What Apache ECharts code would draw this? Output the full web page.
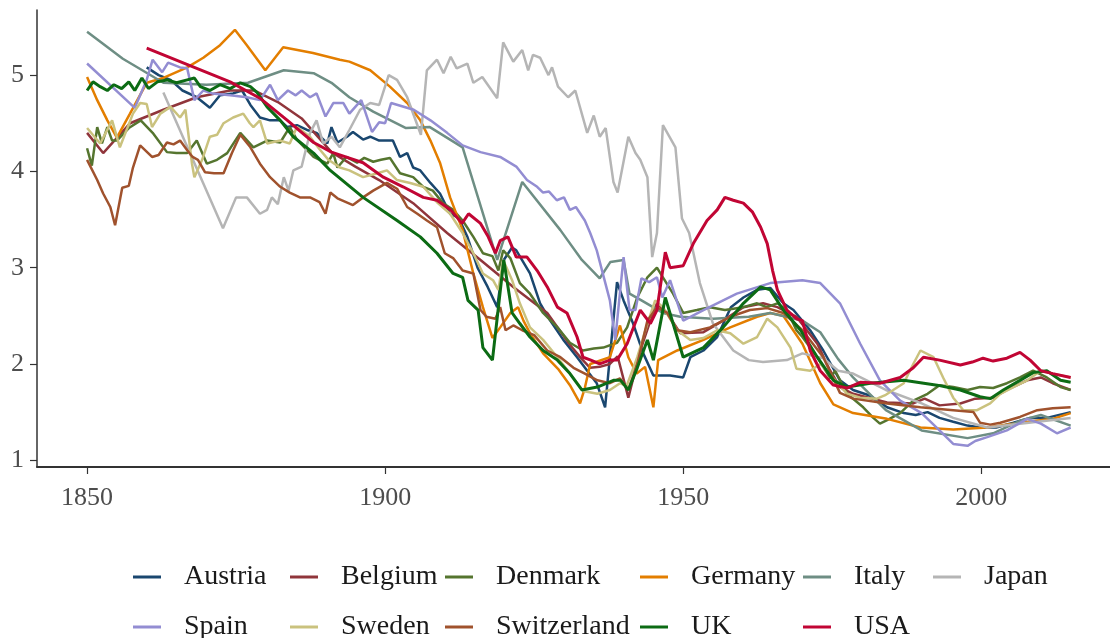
<!DOCTYPE html>
<html>
<head>
<meta charset="utf-8">
<script src="https://cdn.jsdelivr.net/npm/echarts@6/dist/echarts.min.js"></script>
<style>
  html, body { margin: 0; padding: 0; background: #fff; }
  #chart { width: 1110px; height: 638px; }
</style>
</head>
<body>
<div id="chart"></div>
<script>
// [year, value] pairs
const austria = [[1860,5.08],[1862,5.0],[1864,4.95],[1866,4.84],[1868.4,4.77],[1870.6,4.66],[1872.3,4.79],[1874.5,4.81],[1876,4.84],[1877.4,4.69],[1879,4.56],[1880.7,4.53],[1882.4,4.53],[1883.6,4.46],[1885.2,4.48],[1886.9,4.43],[1888.5,4.4],[1890.3,4.29],[1891,4.46],[1892,4.3],[1893.6,4.36],[1894.6,4.41],[1896.3,4.33],[1897.5,4.36],[1899,4.32],[1901.3,4.32],[1902.5,4.15],[1903.7,4.19],[1904.7,4.04],[1905.9,4.01],[1907.6,3.88],[1909.2,3.77],[1910.9,3.56],[1912.3,3.52],[1913.8,3.32],[1915.5,3.0],[1917.2,2.8],[1918.8,2.59],[1919.9,3.08],[1921.3,3.21],[1922,3.18],[1924.3,2.94],[1926,2.63],[1927.7,2.45],[1929.9,2.25],[1932.2,2.07],[1933.9,1.93],[1935.5,1.8],[1936.9,1.55],[1938.9,2.85],[1940,2.66],[1941.6,2.42],[1943.3,2.11],[1945,1.88],[1947.8,1.88],[1950,1.86],[1951.2,2.07],[1953.4,2.14],[1955.7,2.28],[1958,2.59],[1960.1,2.69],[1962.4,2.77],[1964.6,2.79],[1966.8,2.63],[1968.5,2.56],[1971.3,2.35],[1973.5,2.14],[1976.3,1.83],[1978.5,1.73],[1981.4,1.67],[1984.2,1.55],[1987,1.49],[1989,1.47],[1991,1.5],[1993,1.44],[1995.3,1.4],[1997.7,1.36],[1999.8,1.34],[2002.5,1.34],[2005.4,1.39],[2008.2,1.44],[2011,1.44],[2015,1.5]];
const belgium = [[1850,4.4],[1852.7,4.19],[1857.2,4.5],[1862.8,4.64],[1868.4,4.77],[1874,4.84],[1878,4.84],[1882,4.72],[1886,4.55],[1891,4.2],[1895,4.05],[1899,3.91],[1904.7,3.67],[1910.4,3.36],[1916,3.08],[1921.5,2.8],[1927.2,2.53],[1931,2.2],[1933,2.05],[1934.4,1.96],[1936,1.97],[1937.7,2.0],[1939,2.08],[1940.8,1.65],[1942.8,2.14],[1944.5,2.45],[1945.6,2.63],[1947.3,2.53],[1949.5,2.32],[1953.4,2.33],[1956.7,2.45],[1960.1,2.59],[1963.4,2.63],[1965.8,2.59],[1969,2.49],[1972.5,2.21],[1974.5,1.95],[1976.3,1.76],[1978.5,1.69],[1984.2,1.6],[1988.6,1.59],[1990.5,1.64],[1993,1.57],[1996.5,1.59],[1999,1.64],[2002,1.65],[2004.3,1.73],[2007.7,1.83],[2010,1.86],[2012,1.8],[2015,1.73]];
const denmark = [[1850,4.24],[1850.8,4.06],[1851.7,4.46],[1852.5,4.29],[1853.4,4.46],[1854.2,4.32],[1855,4.32],[1857,4.45],[1859,4.53],[1861,4.4],[1863.4,4.2],[1865,4.19],[1866.8,4.19],[1868.4,4.32],[1870.1,4.08],[1871.8,4.12],[1873.5,4.19],[1875.7,4.4],[1877.9,4.25],[1880.2,4.32],[1882.4,4.3],[1884,4.46],[1885.2,4.33],[1888,4.15],[1890.3,4.08],[1891.3,4.19],[1892,4.04],[1893.5,4.15],[1895.3,4.09],[1896.5,4.14],[1898,4.1],[1899.3,4.12],[1900.8,4.14],[1902.5,3.98],[1904.7,3.94],[1906.4,3.84],[1908,3.8],[1909.7,3.67],[1911.4,3.6],[1913,3.49],[1914.8,3.32],[1916.4,3.15],[1918,3.12],[1919,2.97],[1919.8,3.18],[1921,3.1],[1922.6,2.84],[1924.3,2.73],[1926.5,2.53],[1928.9,2.38],[1931,2.22],[1933.2,2.14],[1935,2.16],[1936.6,2.17],[1938.9,2.22],[1940.6,2.38],[1942.3,2.69],[1944,2.9],[1945.6,3.0],[1946.6,2.9],[1948.3,2.73],[1950,2.53],[1952.3,2.56],[1954.5,2.59],[1957,2.56],[1960.1,2.59],[1962.4,2.63],[1964,2.59],[1965.8,2.63],[1967.4,2.56],[1969,2.35],[1970,2.28],[1972.5,2.07],[1974.7,1.85],[1975.5,1.93],[1977.5,1.69],[1980.2,1.55],[1981.9,1.44],[1983,1.38],[1984.3,1.42],[1986.4,1.49],[1988.6,1.62],[1991,1.69],[1993,1.78],[1995.3,1.76],[1997.7,1.73],[1999.8,1.76],[2002,1.75],[2004.3,1.8],[2006.5,1.86],[2008.7,1.93],[2011,1.86],[2013.3,1.76],[2015,1.73]];
const germany = [[1850,4.98],[1851.7,4.74],[1853.4,4.53],[1855,4.35],[1857.2,4.6],[1860,4.92],[1862.8,4.97],[1866.8,5.08],[1869.5,5.18],[1872.3,5.31],[1874.8,5.47],[1876.8,5.31],[1879.9,5.05],[1882.9,5.29],[1887.9,5.23],[1892.4,5.16],[1894,5.14],[1897.5,5.05],[1900.8,4.88],[1903.7,4.71],[1905.9,4.53],[1907.6,4.32],[1909.2,4.09],[1910.9,3.73],[1913,3.39],[1914.8,2.94],[1916.4,2.59],[1918,2.27],[1919.3,2.38],[1921,2.53],[1922.3,2.59],[1923.2,2.45],[1924.3,2.32],[1926.5,2.11],[1929,1.95],[1931,1.78],[1932.7,1.59],[1933.5,1.75],[1934.4,2.0],[1937.7,2.07],[1939.4,2.4],[1940.8,2.07],[1942.2,1.9],[1943.6,1.97],[1945,1.55],[1945.8,2.04],[1949,2.14],[1953.4,2.25],[1957.9,2.38],[1962.4,2.49],[1964.6,2.53],[1966.8,2.5],[1970,2.21],[1973,1.8],[1975.2,1.58],[1978.5,1.49],[1984.2,1.43],[1989.8,1.34],[1995.3,1.32],[2001,1.34],[2006.5,1.39],[2012,1.43],[2015,1.49]];
const italy = [[1850,5.45],[1856,5.17],[1862.8,4.92],[1870,4.9],[1877,4.92],[1883,5.05],[1888,5.02],[1891,4.92],[1894,4.77],[1898,4.62],[1903.5,4.45],[1907.5,4.46],[1913,4.25],[1918.8,3.08],[1923,3.89],[1929.4,3.39],[1933,3.08],[1936,2.89],[1937.8,3.06],[1940,3.08],[1941,2.73],[1943,2.66],[1946.6,2.53],[1949.5,2.49],[1955,2.47],[1961,2.49],[1964.6,2.53],[1970,2.45],[1973,2.33],[1976,2.05],[1978.5,1.86],[1984,1.52],[1990,1.31],[1997.7,1.23],[2002,1.28],[2006.5,1.41],[2010,1.47],[2015,1.36]];
const japan = [[1862.8,4.82],[1872.8,3.41],[1875,3.73],[1876.8,3.73],[1879,3.56],[1880.2,3.6],[1881,3.73],[1882,3.66],[1883,3.94],[1883.8,3.8],[1884.6,4.01],[1886,4.05],[1887.4,4.4],[1888.5,4.53],[1889.6,4.29],[1891,4.36],[1892.4,4.25],[1894,4.43],[1895.8,4.64],[1897.5,4.71],[1899,4.69],[1900.6,5.0],[1902,4.95],[1903.7,4.77],[1906,4.38],[1907,5.05],[1908.7,5.16],[1909.8,5.02],[1911,5.19],[1912,5.07],[1913.8,5.12],[1914.8,4.92],[1916.3,4.98],[1918.8,4.76],[1919.8,5.34],[1921.5,5.14],[1923,5.26],[1924,5.05],[1924.8,5.21],[1926,5.18],[1927.4,5.0],[1928,5.08],[1929,4.88],[1930.7,4.77],[1931.9,4.84],[1933.9,4.4],[1935,4.58],[1936,4.36],[1937,4.45],[1938.3,3.89],[1939,3.78],[1940.8,4.36],[1942,4.19],[1942.8,4.12],[1944,3.94],[1944.8,3.11],[1945.6,3.36],[1946.6,4.48],[1948.7,4.25],[1949.8,3.51],[1951,3.36],[1952.8,2.84],[1955,2.42],[1958.4,2.14],[1961,2.04],[1963.4,2.02],[1967.4,2.04],[1970,2.11],[1973.5,2.06],[1976,1.93],[1978.5,1.9],[1984,1.73],[1990,1.59],[1995.3,1.44],[2001,1.34],[2006.5,1.38],[2015,1.44]];
const spain = [[1850,5.12],[1858,4.66],[1860,4.95],[1861,5.16],[1862.6,5.03],[1863.6,5.13],[1865.6,5.08],[1866.8,5.07],[1868,4.74],[1869.5,4.84],[1871,4.81],[1874,4.79],[1876.8,4.77],[1879,4.74],[1880.7,4.9],[1882,4.74],[1883.7,4.84],[1885,4.79],[1886,4.84],[1887.4,4.77],[1888.5,4.81],[1890,4.57],[1891.3,4.71],[1893,4.71],[1894,4.6],[1896,4.74],[1897.8,4.41],[1899,4.51],[1900,4.5],[1901,4.71],[1904.8,4.64],[1907.6,4.53],[1910.4,4.4],[1913,4.27],[1916,4.2],[1919.3,4.15],[1922,4.05],[1923.8,3.91],[1925.5,3.84],[1926.5,3.78],[1927.5,3.79],[1928.8,3.7],[1930,3.73],[1931,3.6],[1932,3.63],[1933.5,3.49],[1934.4,3.36],[1935.5,3.18],[1937.7,2.66],[1938.6,2.25],[1940,3.11],[1941,2.56],[1942,2.56],[1943,2.89],[1944.3,2.85],[1945.6,2.9],[1946.5,2.69],[1947.8,2.87],[1950,2.45],[1953.4,2.56],[1959,2.73],[1964.6,2.84],[1970,2.87],[1973,2.84],[1976.3,2.63],[1979.7,2.21],[1983,1.83],[1986.4,1.62],[1990,1.49],[1993,1.31],[1995.3,1.17],[1997.7,1.15],[1999,1.2],[2001,1.24],[2004.3,1.31],[2007.7,1.43],[2010,1.38],[2012.7,1.28],[2015,1.34]];
const sweden = [[1850,4.45],[1852.2,4.29],[1854.2,4.53],[1855.5,4.25],[1857.7,4.6],[1858.9,4.71],[1860,4.7],[1860.9,4.46],[1862.3,4.6],[1864,4.67],[1865.6,4.56],[1866.5,4.64],[1867.6,4.08],[1868,3.94],[1869.3,4.12],[1870.6,4.36],[1871.8,4.38],[1872.9,4.5],[1874.5,4.56],[1876.2,4.6],[1877.3,4.5],[1877.9,4.46],[1879,4.53],[1880.2,4.29],[1882.4,4.32],[1884,4.29],[1885.2,4.46],[1887.4,4.36],[1889,4.23],[1890.5,4.12],[1892.4,4.04],[1894,4.01],[1896.3,3.94],[1898.7,3.98],[1900.3,4.01],[1902,3.91],[1904.2,3.88],[1906.4,3.84],[1908.7,3.68],[1910.9,3.56],[1913,3.36],[1914.8,3.15],[1916.4,2.94],[1918.1,2.87],[1919,2.77],[1919.8,3.08],[1921.3,2.87],[1922.6,2.63],[1924.3,2.38],[1926.5,2.25],[1928.9,2.07],[1931,1.9],[1933.2,1.72],[1935.6,1.69],[1937.7,1.73],[1939.4,1.8],[1940.5,1.77],[1942.3,2.07],[1944,2.42],[1945.3,2.66],[1946.6,2.59],[1949,2.35],[1951.2,2.25],[1953.4,2.27],[1955.7,2.35],[1957.9,2.32],[1960.1,2.21],[1962.4,2.28],[1964.1,2.47],[1965.8,2.38],[1968,2.17],[1969,1.95],[1971.3,1.93],[1973,2.0],[1975.2,1.85],[1977.5,1.69],[1979.7,1.65],[1982.5,1.64],[1984,1.68],[1987,1.8],[1988.6,2.0],[1989.8,2.14],[1992,2.07],[1993.6,1.86],[1995.3,1.65],[1997,1.52],[1999.3,1.52],[2001.5,1.59],[2003.2,1.69],[2005.4,1.76],[2007.7,1.83],[2010,1.93],[2012,1.9],[2015,1.86]];
const switzerland = [[1850,4.12],[1851.7,3.91],[1852.7,3.77],[1853.9,3.63],[1854.7,3.44],[1855.9,3.83],[1857,3.85],[1857.7,4.04],[1858.9,4.27],[1860.9,4.15],[1862,4.17],[1863.4,4.3],[1864.5,4.28],[1865.6,4.32],[1866.8,4.22],[1867.7,4.15],[1868.6,4.12],[1869.8,3.99],[1871.3,3.98],[1872.9,3.98],[1874.3,4.19],[1875.7,4.38],[1877.4,4.25],[1879,4.08],[1880.7,3.94],[1882.4,3.84],[1884,3.78],[1885.7,3.73],[1887.4,3.73],[1889,3.68],[1890,3.56],[1890.8,3.78],[1892,3.72],[1894.6,3.65],[1896.3,3.73],[1898,3.8],[1900.3,3.88],[1902,3.82],[1903.7,3.63],[1905.4,3.56],[1907,3.49],[1908.7,3.42],[1910,3.15],[1911.4,3.1],[1913,2.97],[1914.8,2.94],[1916,2.56],[1917,2.49],[1918.5,2.47],[1919.3,2.59],[1920.2,2.35],[1921.5,2.4],[1923,2.35],[1925,2.3],[1927.2,2.14],[1929.4,2.07],[1931.6,1.96],[1933.5,1.9],[1935.6,1.83],[1937.7,1.8],[1939.4,1.85],[1940.8,1.73],[1942.3,2.0],[1944,2.45],[1945.6,2.59],[1947.3,2.53],[1949,2.35],[1951.2,2.33],[1954.5,2.38],[1957.9,2.49],[1961.2,2.56],[1964.1,2.58],[1966.8,2.53],[1970,2.35],[1973.5,2.07],[1976.3,1.7],[1978.5,1.64],[1984.2,1.59],[1989.8,1.55],[1995.3,1.52],[1998.7,1.5],[1999.8,1.39],[2001.5,1.37],[2003.2,1.39],[2006.5,1.45],[2009.4,1.52],[2012,1.54],[2015,1.55]];
const uk = [[1850,4.84],[1851,4.93],[1852.2,4.88],[1853.4,4.84],[1854.5,4.9],[1855.8,4.86],[1857,4.93],[1858,4.84],[1859.2,4.97],[1860.3,4.86],[1861.8,4.93],[1863.4,4.95],[1865,4.92],[1866.8,4.95],[1868,4.97],[1869,4.88],[1870.6,4.84],[1872.3,4.9],[1874,4.86],[1875.7,4.92],[1877.4,4.88],[1878.5,4.82],[1880.2,4.67],[1882.4,4.53],[1884.6,4.36],[1888,4.19],[1890.8,4.01],[1896.3,3.73],[1902,3.49],[1905.9,3.32],[1908.7,3.15],[1911.4,2.94],[1913,2.9],[1913.9,2.66],[1915.6,2.56],[1916.4,2.17],[1918,2.04],[1919.9,3.08],[1921.3,2.53],[1922.6,2.42],[1924.3,2.28],[1926.5,2.14],[1928.9,2.04],[1931,1.9],[1933,1.73],[1935.6,1.76],[1938.3,1.83],[1939.5,1.83],[1940.8,1.73],[1942.3,1.96],[1944,2.25],[1945,2.04],[1947,2.69],[1950,2.07],[1953.4,2.17],[1956.7,2.38],[1960.1,2.63],[1963,2.8],[1964.6,2.77],[1966.8,2.56],[1969.7,2.35],[1972.5,2.07],[1975.2,1.83],[1977.5,1.76],[1981.4,1.8],[1987,1.83],[1992.6,1.78],[1996.5,1.73],[1999.8,1.66],[2001.5,1.64],[2003.7,1.73],[2006.5,1.83],[2008.7,1.91],[2011,1.93],[2013.3,1.83],[2015,1.81]];
const usa = [[1860,5.28],[1874,4.93],[1879,4.76],[1883.6,4.53],[1888,4.3],[1891,4.2],[1896.3,4.09],[1899.7,3.94],[1903,3.84],[1906.4,3.73],[1908.7,3.7],[1911,3.6],[1912.9,3.46],[1914,3.56],[1916,3.46],[1917.3,3.32],[1918.5,3.15],[1919.3,3.28],[1920.6,3.32],[1922,3.11],[1923.8,3.11],[1925.5,2.97],[1927.2,2.8],[1928.9,2.59],[1930.5,2.53],[1932.2,2.28],[1933.2,2.07],[1934.5,2.04],[1936,2.0],[1937.7,2.04],[1938.9,2.04],[1940.6,2.21],[1942.8,2.56],[1944.5,2.42],[1945.6,2.56],[1947,3.16],[1947.8,3.0],[1950,3.02],[1951.7,3.25],[1954,3.49],[1955.7,3.6],[1957,3.73],[1958.4,3.7],[1960.1,3.67],[1961.6,3.58],[1963,3.42],[1964.1,3.25],[1965,2.97],[1965.8,2.77],[1967.4,2.56],[1969,2.47],[1970,2.45],[1971.3,2.14],[1973,1.93],[1975.2,1.78],[1977.5,1.75],[1979.7,1.81],[1983,1.8],[1986.4,1.86],[1988.6,1.96],[1990.3,2.07],[1993,2.04],[1996.5,1.99],[1998.5,2.02],[2000.3,2.06],[2002,2.03],[2004.3,2.06],[2006.5,2.12],[2008.2,2.04],[2010,1.93],[2012,1.9],[2015,1.86]];

const countries = ['Austria', 'Belgium', 'Denmark', 'Germany', 'Italy', 'Japan', 'Spain', 'Sweden', 'Switzerland', 'UK', 'USA'];
const seriesData = [austria, belgium, denmark, germany, italy, japan, spain, sweden, switzerland, uk, usa];
const colors = ['#1a476f', '#90353b', '#55752f', '#e37e00', '#6e8e84', '#b5b5b5', '#938dd2', '#cac27e', '#a0522d', '#0c6b14', '#c10534'];
const xTicks = [1850, 1900, 1950, 2000];
const yTicks = [1, 2, 3, 4, 5];

const serif = "'Liberation Serif', 'DejaVu Serif', serif";

// legend laid out as a 6x2 grid like the original, one legend per column
const legendCols = [['Austria', 'Spain'], ['Belgium', 'Sweden'], ['Denmark', 'Switzerland'], ['Germany', 'UK'], ['Italy', 'USA'], ['Japan']];
const legendLeft = [133, 290, 445, 640, 803, 933];

const chart = echarts.init(document.getElementById('chart'));

chart.setOption({
  animation: false,
  color: colors,
  grid: { left: 37, right: 0, top: 10, bottom: 171, containLabel: false },
  xAxis: {
    type: 'value',
    min: 1841.6,
    max: 2021.6,
    splitLine: { show: false },
    axisLine: { lineStyle: { color: '#333', width: 2 } },
    axisTick: { customValues: xTicks, length: 7, lineStyle: { color: '#333', width: 1.2 } },
    axisLabel: { customValues: xTicks, margin: 18, color: '#4d4d4d', fontFamily: serif, fontSize: 26, formatter: v => String(v) },
  },
  yAxis: {
    type: 'value',
    min: 0.93,
    max: 5.676,
    splitLine: { show: false },
    axisLine: { show: true, lineStyle: { color: '#333', width: 1.5 } },
    axisTick: { show: true, customValues: yTicks, length: 7, lineStyle: { color: '#333', width: 1.2 } },
    axisLabel: { customValues: yTicks, margin: 13, color: '#4d4d4d', fontFamily: serif, fontSize: 26 },
  },
  legend: legendCols.map((names, i) => ({
    data: names,
    orient: 'vertical',
    left: legendLeft[i],
    top: 563,
    height: 120,
    itemGap: 22,
    itemWidth: 28,
    itemHeight: 3,
    icon: 'rect',
    padding: 0,
    selectedMode: false,
    textStyle: { fontFamily: serif, fontSize: 28, color: '#1a1a1a', lineHeight: 28, padding: [0, 0, 0, 18] },
  })),
  series: countries.map((name, i) => ({
    name,
    type: 'line',
    data: seriesData[i],
    showSymbol: false,
    symbol: 'none',
    lineStyle: { width: name === 'UK' || name === 'USA' ? 3 : 2.5, color: colors[i] },
    itemStyle: { color: colors[i] },
  })),
});
</script>
</body>
</html>
